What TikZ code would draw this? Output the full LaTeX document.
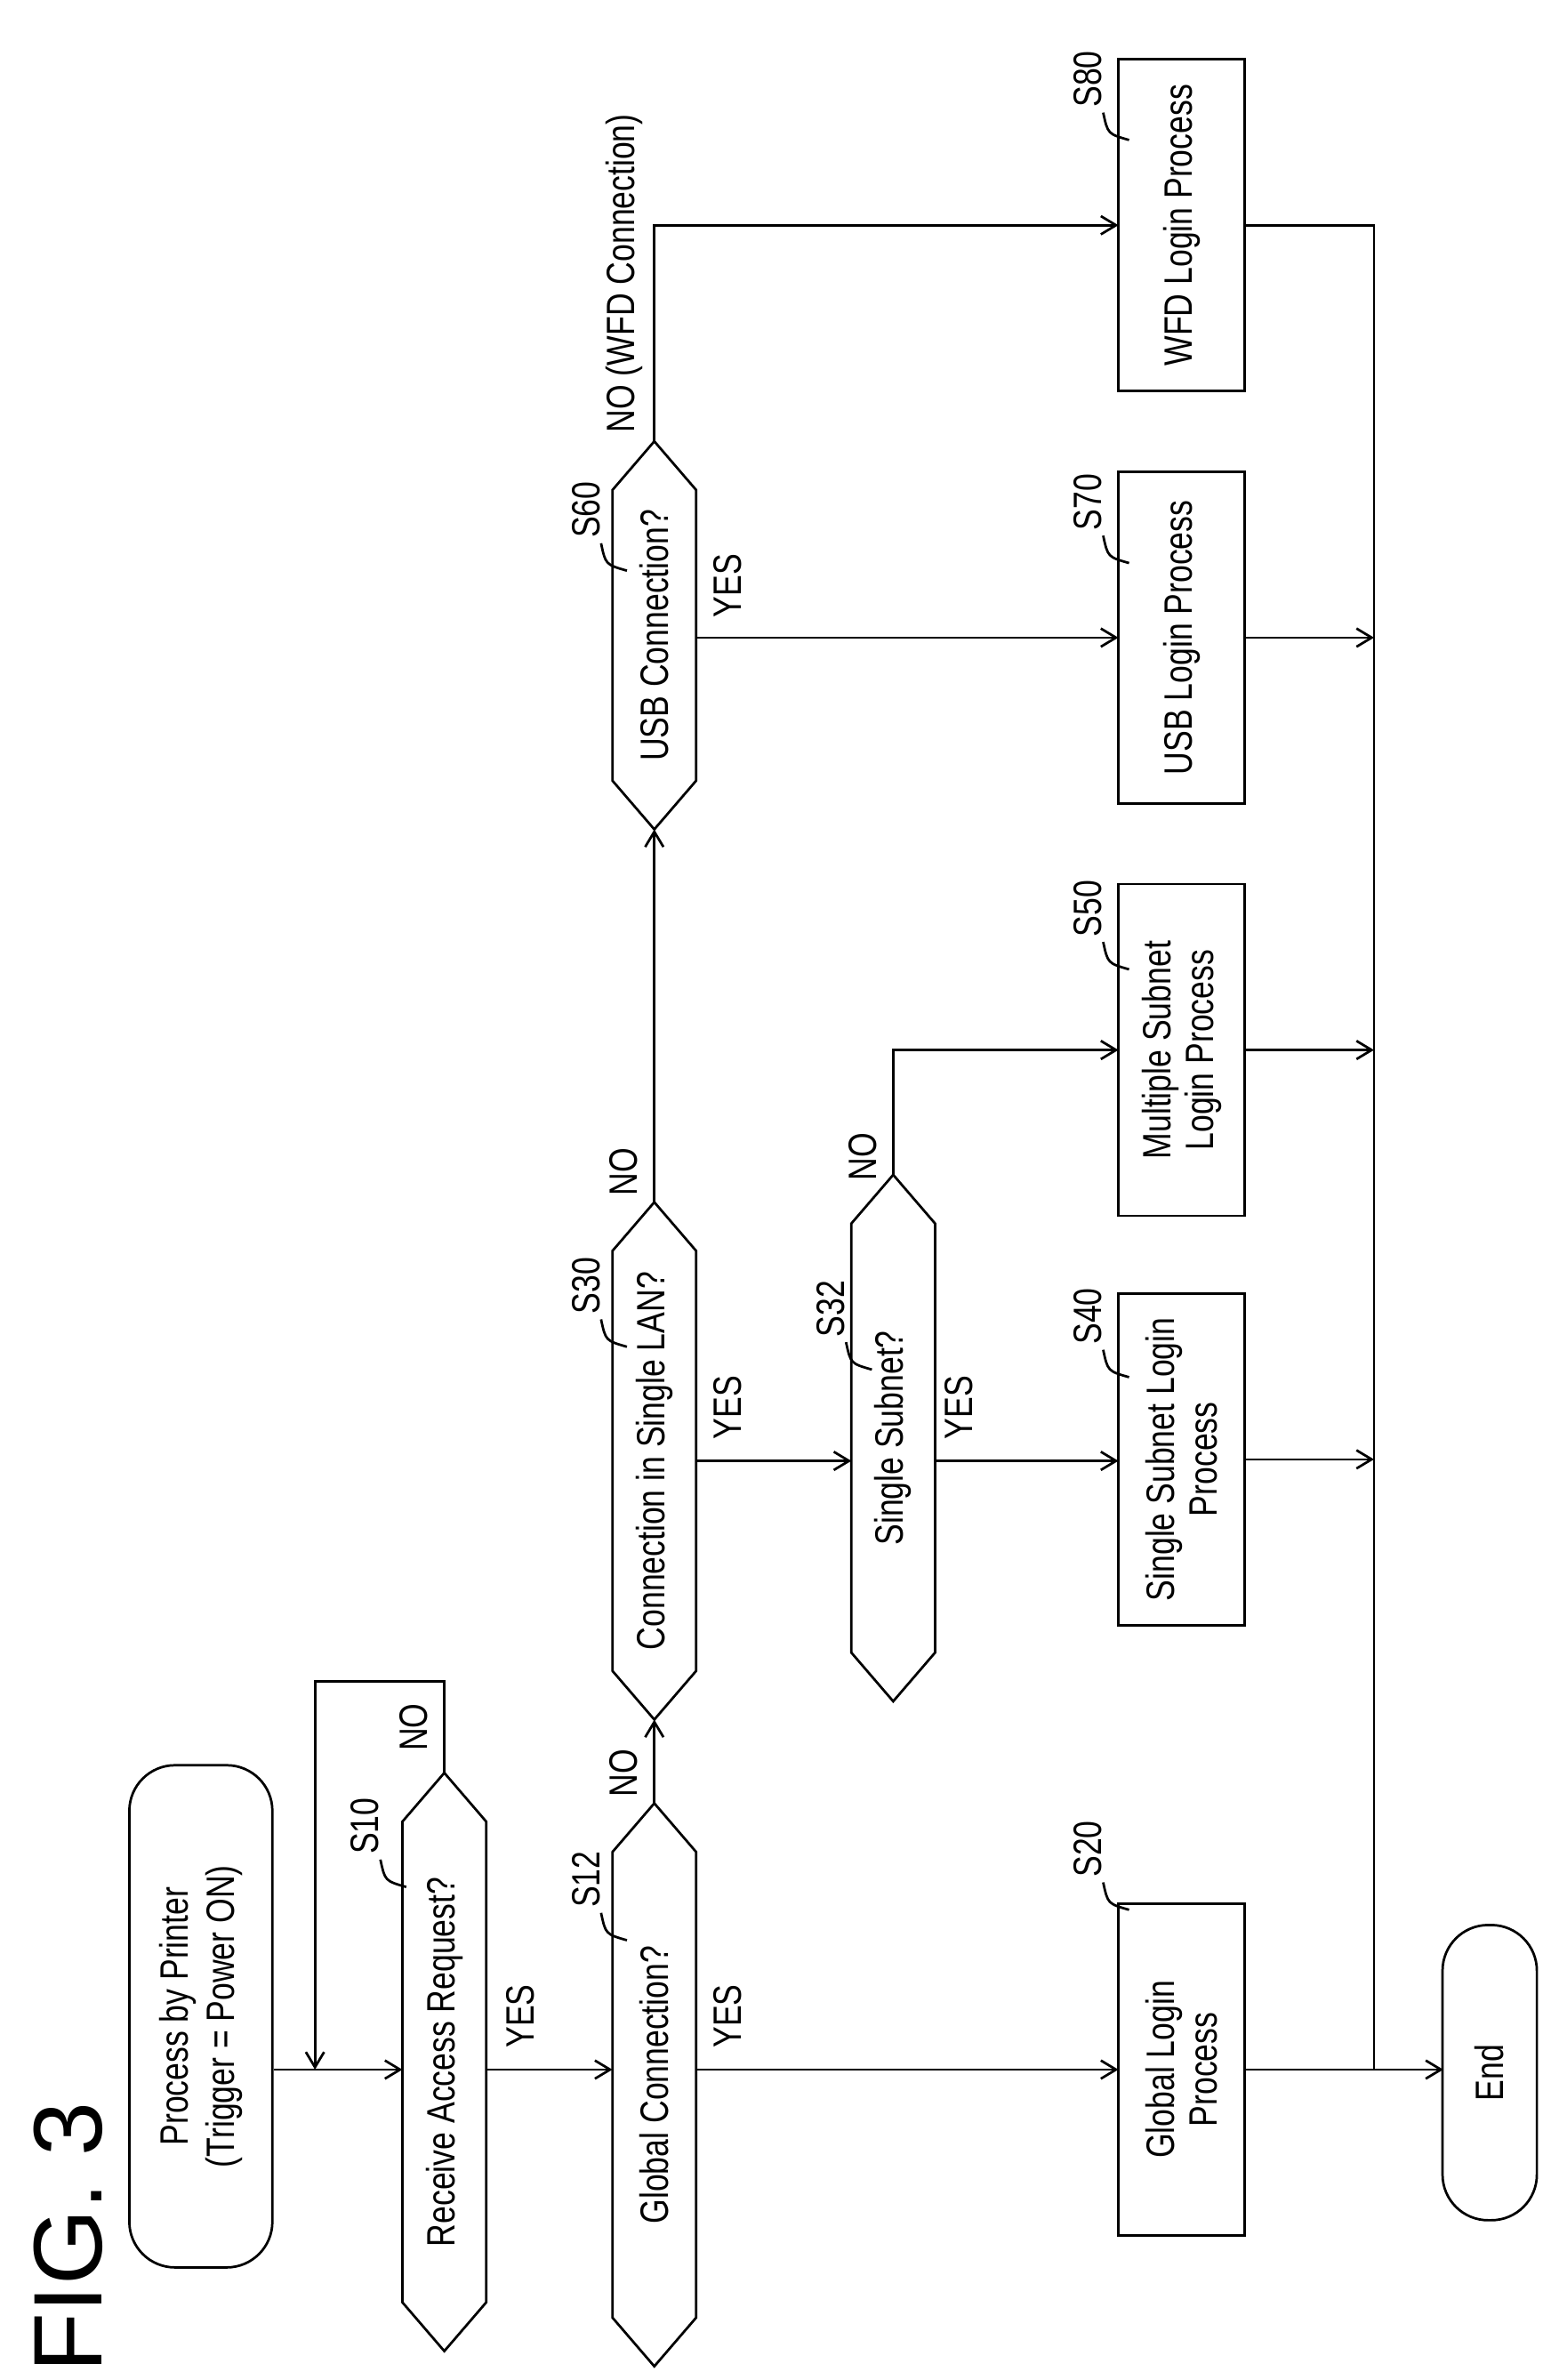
\documentclass[tikz,border=0pt]{standalone}
\usepackage{fontspec}
\setmainfont{Liberation Sans}[FakeStretch=0.8]
\newfontfamily\figfont{Liberation Sans}
\usetikzlibrary{arrows.meta}
\begin{document}
\begin{tikzpicture}[x=0.5pt,y=-0.5pt,line width=0.8pt,
  lbl/.style={rotate=90,align=center,font=\fontsize{13}{14}\selectfont,inner sep=0pt},
  box/.style={draw,rotate=90,align=center,font=\fontsize{13}{14}\selectfont,minimum width=109pt,minimum height=41.5pt,inner sep=2pt},
  term/.style={draw,rotate=90,align=center,rounded corners=15pt,font=\fontsize{13}{15}\selectfont,inner sep=2pt},
  arr/.style={-{Straight Barb[length=5pt,width=6pt]}},
  yn/.style={rotate=90,font=\fontsize{13}{14}\selectfont,inner sep=0pt}]
\useasboundingbox (0,0) rectangle (1024,1564);
\newcommand\hexa[5]{%
  \coordinate (#1t) at (#2,#3); \coordinate (#1b) at (#2,#4);
  \draw (#2,#3) -- ({#2+27.5},{#3+32}) -- ({#2+27.5},{#4-32}) -- (#2,#4) -- ({#2-27.5},{#4-32}) -- ({#2-27.5},{#3+32}) -- cycle;
  \node[lbl] (#1) at (#2,{(#3+#4)/2}) {#5};}
\newcommand\step[3]{%
  \node[yn] (#1) at (#2,#3) {#1};
  \draw (#2+10,#3+22) .. controls (#2+13,#3+36) .. (#2+27,#3+40);}
% FIG
\node[rotate=90,font=\figfont\fontsize{32}{38}\selectfont] (fig) at (45,1470) {FIG. 3};
% start
\node[term,minimum width=165pt,minimum height=47pt] (start) at (132,1325) {Process by Printer\\(Trigger = Power ON)};
\hexa{s10}{292}{1165}{1545}{Receive Access Request?}
\hexa{s12}{430}{1185}{1555}{Global Connection?}
\hexa{s30}{430}{790}{1130}{Connection in Single LAN?}
\hexa{s32}{587}{772}{1118}{Single Subnet?}
\hexa{s60}{430}{290}{545}{USB Connection?}
\node[box] (s20b) at (776.5,1360) {Global Login\\Process};
\node[box] (s40b) at (776.5,959) {Single Subnet Login\\Process};
\node[box] (s50b) at (776.5,690) {Multiple Subnet\\Login Process};
\node[box] (s70b) at (776.5,419) {USB Login Process};
\node[box] (s80b) at (776.5,148) {WFD Login Process};
\node[term,minimum width=97pt,minimum height=31pt] (end) at (979,1362) {End};
% step labels
\step{S10}{240}{1200}
\step{S12}{385}{1235}
\step{S30}{385}{845}
\step{S32}{546}{860}
\step{S60}{385}{335}
\step{S20}{715}{1215}
\step{S40}{715}{865}
\step{S50}{715}{597}
\step{S70}{715}{330}
\step{S80}{715}{52}
% connectors
\coordinate (j) at (207,1360);
\draw[arr] (180,1360) -- (264.5,1360);
\draw[arr] (s10t) -- (292,1105) -- (207,1105) -- (j);
\draw[arr] (319.5,1360) -- (402.5,1360);
\node[yn] (y10) at (342,1325) {YES};
\node[yn] (n10) at (272,1135) {NO};
\draw[arr] (457.5,1360) -- (735,1360);
\node[yn] (y12) at (478,1325) {YES};
\draw[arr] (s12t) -- (s30b);
\node[yn] (n12) at (410,1165) {NO};
\draw[arr] (457.5,960) -- (559.5,960);
\node[yn] (y30) at (478,925) {YES};
\draw[arr] (614.5,960) -- (735,960);
\node[yn] (y32) at (630,925) {YES};
\draw[arr] (s32t) -- (587,690) -- (735,690);
\node[yn] (n32) at (567,760) {NO};
\draw[arr] (s30t) -- (s60b);
\node[yn] (n30) at (410,770) {NO};
\draw[arr] (457.5,419) -- (735,419);
\node[yn] (y60) at (478,385) {YES};
\draw[arr] (s60t) -- (430,148) -- (735,148);
\node[yn,anchor=west] (n60) at (410,285) {NO (WFD Connection)};
\coordinate (c) at (903,148);
\draw (818,148) -- (c) -- (903,1360);
\draw[arr] (818,419) -- (903,419);
\draw[arr] (818,690) -- (903,690);
\draw[arr] (818,959) -- (903,959);
\draw[arr] (818,1360) -- (948.5,1360);
\end{tikzpicture}
\end{document}
